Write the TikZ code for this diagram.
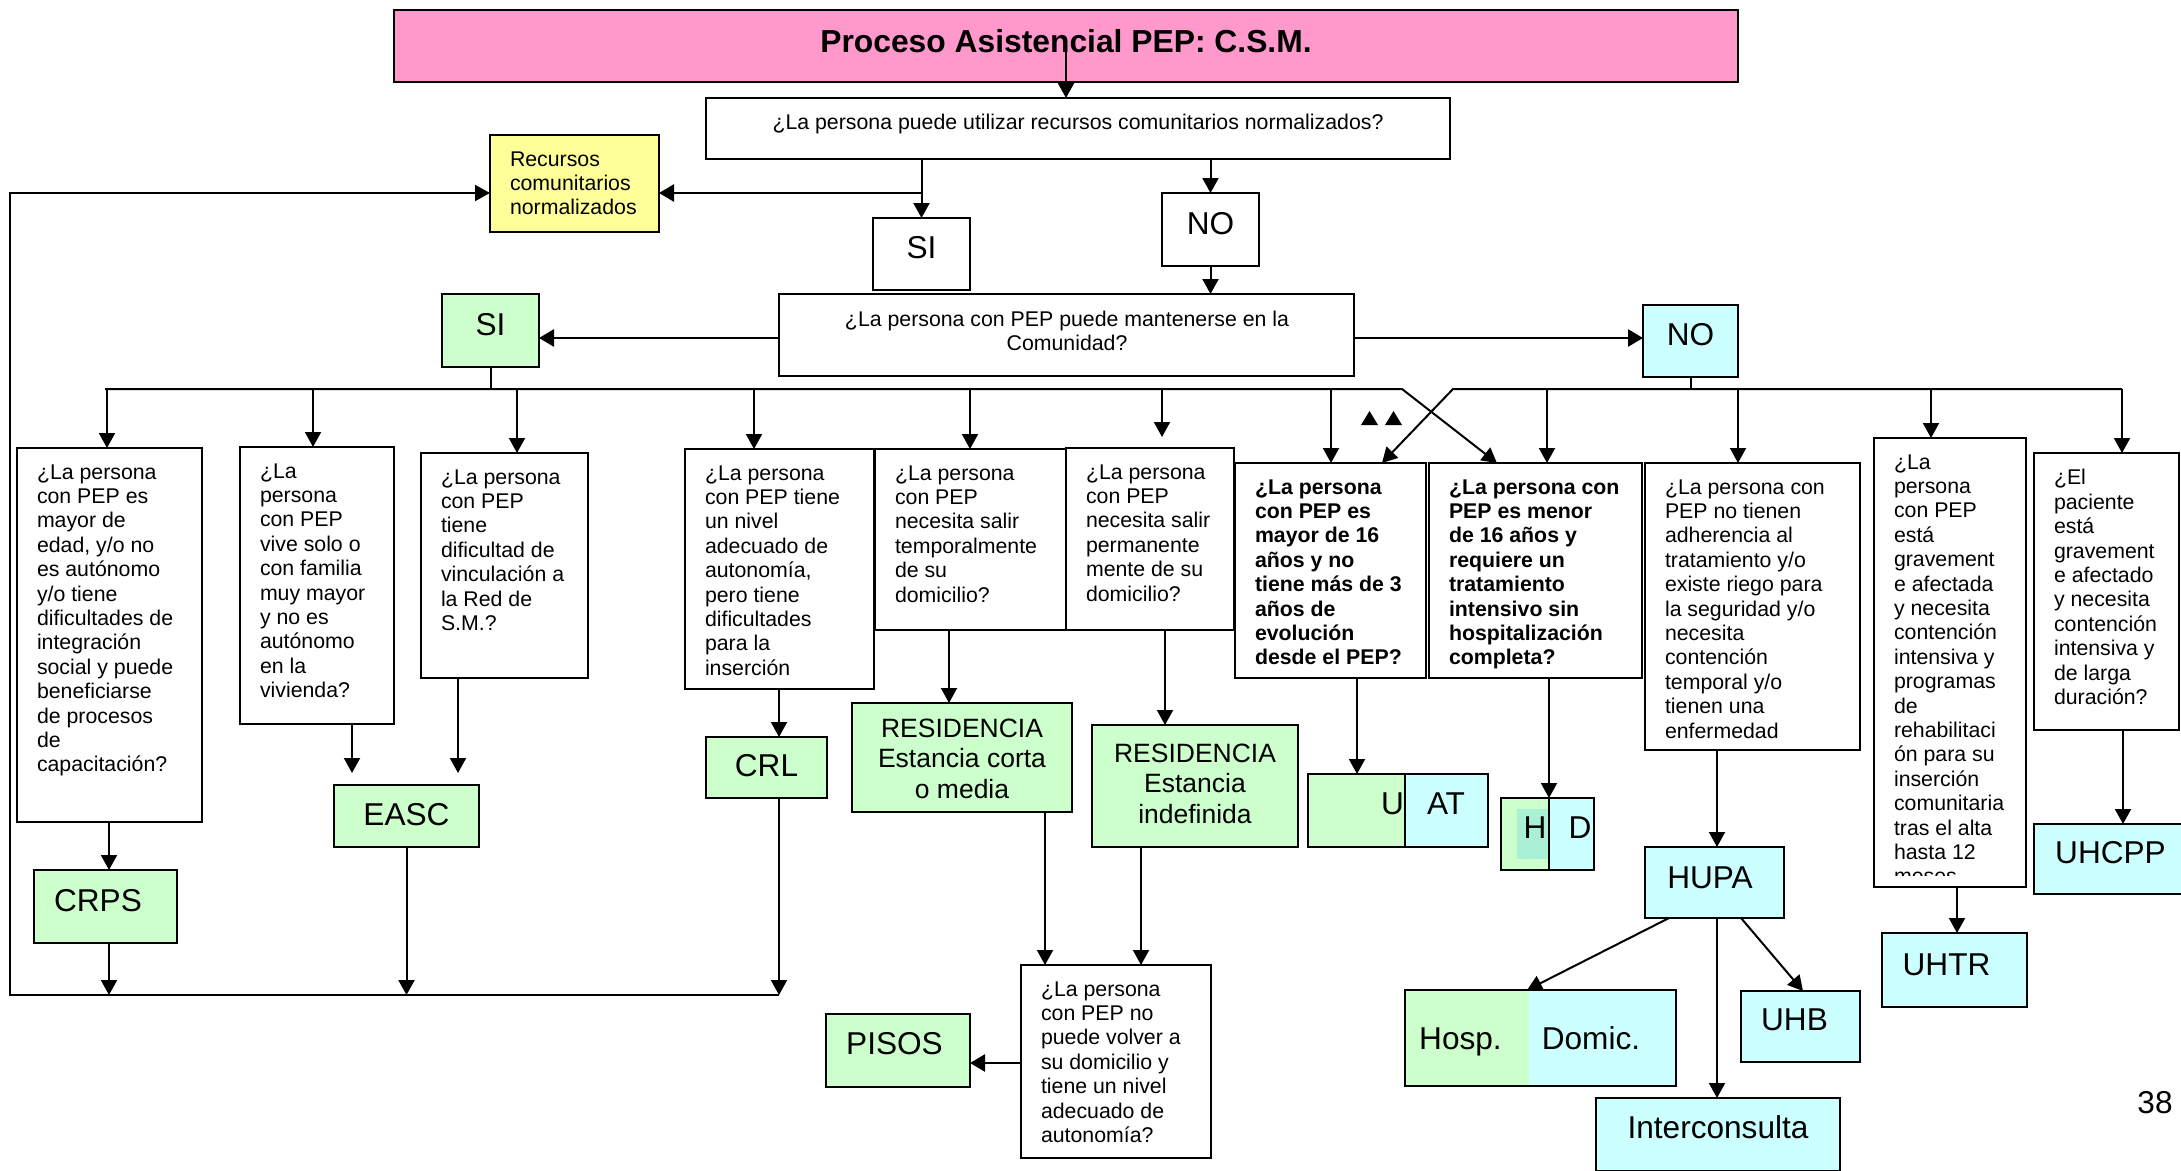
\documentclass[tikz,border=0pt]{standalone}
\usepackage{fontspec}
\setmainfont{Liberation Sans}
\usetikzlibrary{arrows.meta,calc}
\definecolor{pinkT}{HTML}{FF99CC}
\definecolor{yelT}{HTML}{FFFF99}
\definecolor{grnT}{HTML}{CCFFCC}
\definecolor{cynT}{HTML}{CCFFFF}
\definecolor{tealT}{HTML}{AAF0D4}
\newcommand\fbody{\fontsize{21.3}{24.4}\selectfont}
\newcommand\fbig{\fontsize{31.6}{36}\selectfont}
\newcommand\fmid{\fontsize{26.5}{30.4}\selectfont}
\newcommand\mkbox[6]{\node[boxs,#1,minimum width={(#5)-(#3)},minimum height={(#6)-(#4)}] (#2) at (#3,#4) {};}
\newcommand\qbox[7]{\mkbox{}{#2}{#3}{#4}{#5}{#6}\node[qtext,#1] (#2-t) at ({#3+20},{#4+16.4}) {#7};}
\begin{document}
\begin{tikzpicture}[x=1pt,y=-1pt,
  boxs/.style={draw=black,line width=2pt,inner sep=0pt,outer sep=0pt,anchor=north west},
  qtext/.style={anchor=north west,inner sep=0pt,outer sep=0pt,align=left,font=\fbody},
  lbl/.style={inner sep=0pt,outer sep=0pt,font=\fbig,text height=22.6pt,text depth=0pt},
  arr/.style={line width=2pt,-{Triangle[length=15pt,width=16pt]}},
  arrT/.style={line width=2.7pt,-{Triangle[length=15pt,width=17pt]}},
  ln/.style={line width=2pt}]
\useasboundingbox (0,0) rectangle (2181,1170);
\fill[white] (0,0) rectangle (2181,1170);

% title
\mkbox{fill=pinkT}{title}{394}{10}{1738}{82}
\node[inner sep=0pt,font=\fontsize{31.8}{36}\selectfont\bfseries,text height=22.8pt,text depth=0pt] (title-t) at (1066,41.5) {Proceso Asistencial PEP: C.S.M.};

% first question
\mkbox{}{q1}{706}{98}{1450}{159}
\node[inner sep=0pt,font=\fbody,text height=15.3pt,text depth=0pt] (q1-t) at (1078,122) {¿La persona puede utilizar recursos comunitarios normalizados?};

\mkbox{fill=yelT}{rec}{490}{135}{659}{232}
\node[qtext] (rec-t) at (510,151.4) {Recursos\\comunitarios\\normalizados};

\mkbox{}{siw}{873}{218}{970}{290}
\node[lbl] (siw-t) at (921.5,246.7) {SI};
\mkbox{}{now}{1162}{193}{1259}{266}
\node[lbl] (now-t) at (1210.5,223.5) {NO};

% second question
\mkbox{}{q2}{779}{294}{1354}{376}
\node[inner sep=0pt,font=\fbody,align=center,anchor=north] (q2-t) at (1067,310.4) {¿La persona con PEP puede mantenerse en la\\Comunidad?};

\mkbox{fill=grnT}{sig}{442}{294}{539}{367}
\node[lbl] (sig-t) at (490.5,324) {SI};
\mkbox{fill=cynT}{noc}{1643}{305}{1738}{377}
\node[lbl] (noc-t) at (1690.5,334) {NO};

% question columns
\qbox{}{col1}{17}{448}{202}{822}{¿La persona\\con PEP es\\mayor de\\edad, y/o no\\es autónomo\\y/o tiene\\dificultades de\\integración\\social y puede\\beneficiarse\\de procesos\\de\\capacitación?}
\qbox{}{col2}{240}{447}{394}{724}{¿La\\persona\\con PEP\\vive solo o\\con familia\\muy mayor\\y no es\\autónomo\\en la\\vivienda?}
\qbox{}{col3}{421}{453}{588}{678}{¿La persona\\con PEP\\tiene\\dificultad de\\vinculación a\\la Red de\\S.M.?}
\qbox{}{crlq}{685}{449}{874}{689}{¿La persona\\con PEP tiene\\un nivel\\adecuado de\\autonomía,\\pero tiene\\dificultades\\para la\\inserción}
\qbox{}{temp}{875}{449}{1066}{630}{¿La persona\\con PEP\\necesita salir\\temporalmente\\de su\\domicilio?}
\qbox{}{perm}{1066}{448}{1234}{630}{¿La persona\\con PEP\\necesita salir\\permanente\\mente de su\\domicilio?}
\qbox{font=\fbody\bfseries}{mayor}{1235}{463}{1426}{678}{¿La persona\\con PEP es\\mayor de 16\\años y no\\tiene más de 3\\años de\\evolución\\desde el PEP?}
\qbox{font=\fbody\bfseries}{menor}{1429}{463}{1642}{678}{¿La persona con\\PEP es menor\\de 16 años y\\requiere un\\tratamiento\\intensivo sin\\hospitalización\\completa?}
\qbox{}{adh}{1645}{463}{1860}{750}{¿La persona con\\PEP no tienen\\adherencia al\\tratamiento y/o\\existe riego para\\la seguridad y/o\\necesita\\contención\\temporal y/o\\tienen una\\enfermedad}
\mkbox{}{uhtrq}{1874}{438}{2026}{887}
\begin{scope}
\clip (1874,438) rectangle (2026,875);
\node[qtext] (uhtrq-t) at (1894,454.4) {¿La\\persona\\con PEP\\está\\gravement\\e afectada\\y necesita\\contención\\intensiva y\\programas\\de\\rehabilitaci\\ón para su\\inserción\\comunitaria\\tras el alta\\hasta 12\\meses};
\end{scope}
\qbox{}{uhcppq}{2034}{453}{2179}{730}{¿El\\paciente\\está\\gravement\\e afectado\\y necesita\\contención\\intensiva y\\de larga\\duración?}
\qbox{}{pisosq}{1021}{965}{1211}{1158}{¿La persona\\con PEP no\\puede volver a\\su domicilio y\\tiene un nivel\\adecuado de\\autonomía?}

% result boxes
\mkbox{fill=grnT}{crps}{34}{870}{177}{943}
\node[lbl] (crps-t) at (98,900) {CRPS};
\mkbox{fill=grnT}{easc}{334}{785}{479}{847}
\node[lbl] (easc-t) at (406.5,814) {EASC};
\mkbox{fill=grnT}{crl}{706}{737}{827}{798}
\node[lbl] (crl-t) at (766.5,765) {CRL};
\mkbox{fill=grnT}{resc}{852}{703}{1072}{812}
\node[inner sep=0pt,font=\fmid,align=center,anchor=north] (resc-t) at (962,718.5) {RESIDENCIA\\Estancia corta\\o media};
\mkbox{fill=grnT}{resi}{1092}{725}{1298}{847}
\node[inner sep=0pt,font=\fmid,align=center,anchor=north] (resi-t) at (1195,743.5) {RESIDENCIA\\Estancia\\indefinida};
\mkbox{fill=grnT}{pisos}{826}{1014}{970}{1087}
\node[lbl] (pisos-t) at (894.5,1043.5) {PISOS};

\mkbox{fill=grnT}{uatg}{1308}{774}{1429}{847}
\mkbox{fill=cynT}{uatb}{1405}{774}{1488}{847}
\node[lbl,anchor=east] (uat-u) at (1404,803.5) {U};
\node[lbl] (uat-at) at (1446,803.5) {AT};

\mkbox{fill=grnT}{hdg}{1501}{798}{1570}{870}
\fill[tealT] (1517,809) rectangle (1549,859);
\mkbox{fill=cynT}{hdb}{1549}{798}{1594}{870}
\node[lbl] (hd-h) at (1535,827) {H};
\node[lbl] (hd-d) at (1580,827) {D};

\mkbox{fill=cynT}{hupa}{1645}{847}{1784}{918}
\node[lbl] (hupa-t) at (1710,877) {HUPA};
\fill[grnT] (1405,990) rectangle (1529,1086);
\fill[cynT] (1529,990) rectangle (1676,1086);
\mkbox{line width=2.6pt}{hosp}{1405}{990}{1676}{1086}
\node[lbl] (hosp-h) at (1460.5,1038) {Hosp.};
\node[lbl] (hosp-d) at (1591,1038) {Domic.};
\mkbox{fill=cynT}{uhb}{1741}{991}{1860}{1062}
\node[lbl] (uhb-t) at (1794.5,1019) {UHB};
\mkbox{fill=cynT}{inter}{1596}{1098}{1840}{1171}
\node[lbl] (inter-t) at (1718,1127.5) {Interconsulta};
\mkbox{fill=cynT}{uhtr}{1882}{933}{2027}{1007}
\node[lbl] (uhtr-t) at (1946.5,964) {UHTR};
\mkbox{fill=cynT}{uhcpp}{2034}{824}{2190}{894}
\node[lbl] (uhcpp-t) at (2110.5,852.5) {UHCPP};
\node[lbl] (page) at (2155,1102) {38};

% connectors top
\draw[arr] (title.center) -- (title.center |- q1.north);
\coordinate (y193) at (0,193);
\coordinate (y338) at (0,338);
\draw[arr] (siw.north |- q1.south) -- (siw.north);
\draw[arrT] (siw.north |- y193) -- (rec.east |- y193);
\draw[arr] (now.north |- q1.south) -- (now.north);
\draw[arr] (now.south) -- (now.south |- q2.north);
\draw[arrT] (q2.west |- y338) -- (sig.east |- y338);
\draw[arrT] (q2.east |- y338) -- (noc.west |- y338);

% buses
\coordinate (bl) at (105,389);
\coordinate (ble) at (1402,389);
\coordinate (brs) at (1453,389);
\coordinate (bre) at (2122,389);
\draw[ln] (sig.south) -- (sig.south |- bl);
\draw[ln] (noc.south) -- (noc.south |- bl);
\draw[arr] (bl) -- (ble) -- ($(menor.north west)+(68,0)$);
\draw[arr] (bre) -- (brs) -- ($(mayor.north west)+(147,0)$);
\foreach \xx/\nn in {107/col1,313/col2,517/col3,754/crlq,970/temp,1331/mayor,1547/menor,1738/adh,1931/uhtrq,2122/uhcppq}{
  \coordinate (tmp) at (\xx,389);
  \draw[arr] (tmp) -- (tmp |- \nn.north);
}
\coordinate (a6) at (1162,389);
\draw[arr] (a6) -- ($(a6 |- perm.north)+(0,-11)$);
\fill (1361,425) -- (1378,425) -- (1369.5,411) -- cycle;
\fill (1385,425) -- (1402,425) -- (1393.5,411) -- cycle;

% lower connectors
\coordinate (bb) at (10,995);
\coordinate (k1) at (109,0);
\draw[arr] (k1 |- col1.south) -- (k1 |- crps.north);
\draw[arr] (k1 |- crps.south) -- (k1 |- bb);
\coordinate (e2) at (352,773);
\draw[arr] (e2 |- col2.south) -- (e2);
\coordinate (e3) at (458,773);
\draw[arr] (e3 |- col3.south) -- (e3);
\draw[arr] (easc.south) -- (easc.south |- bb);
\coordinate (k3) at (779,0);
\draw[arr] (k3 |- crlq.south) -- (k3 |- crl.north);
\draw[arr] (k3 |- crl.south) -- (k3 |- bb);
\draw[arr] (k3 |- bb) -- (bb) -- (bb |- y193) -- (rec.west |- y193);
\coordinate (k5) at (949,0);
\draw[arr] (k5 |- temp.south) -- (k5 |- resc.north);
\coordinate (k6) at (1165,0);
\draw[arr] (k6 |- perm.south) -- (k6 |- resi.north);
\coordinate (k7) at (1045,0);
\draw[arr] (k7 |- resc.south) -- (k7 |- pisosq.north);
\coordinate (k8) at (1141,0);
\draw[arr] (k8 |- resi.south) -- (k8 |- pisosq.north);
\coordinate (y1063) at (0,1063);
\draw[arrT] (pisosq.west |- y1063) -- (pisos.east |- y1063);
\coordinate (k9) at (1357,0);
\draw[arr] (k9 |- mayor.south) -- (k9 |- uatg.north);
\coordinate (k10) at (1549,0);
\draw[arr] (k10 |- menor.south) -- (k10 |- hdg.north);
\coordinate (k11) at (1717,0);
\draw[arr] (k11 |- adh.south) -- (k11 |- hupa.north);
\draw[arr] (k11 |- hupa.south) -- (k11 |- inter.north);
\coordinate (k12) at (1957,0);
\draw[arr] (k12 |- uhtrq.south) -- (k12 |- uhtr.north);
\coordinate (k13) at (2123,0);
\draw[arr] (k13 |- uhcppq.south) -- (k13 |- uhcpp.north);
\draw[arr] ($(hupa.south west)+(24,0)$) -- ($(hosp.north west)+(122,0)$);
\draw[arr] ($(hupa.south west)+(96,0)$) -- ($(uhb.north west)+(62,0)$);
\end{tikzpicture}
\end{document}
